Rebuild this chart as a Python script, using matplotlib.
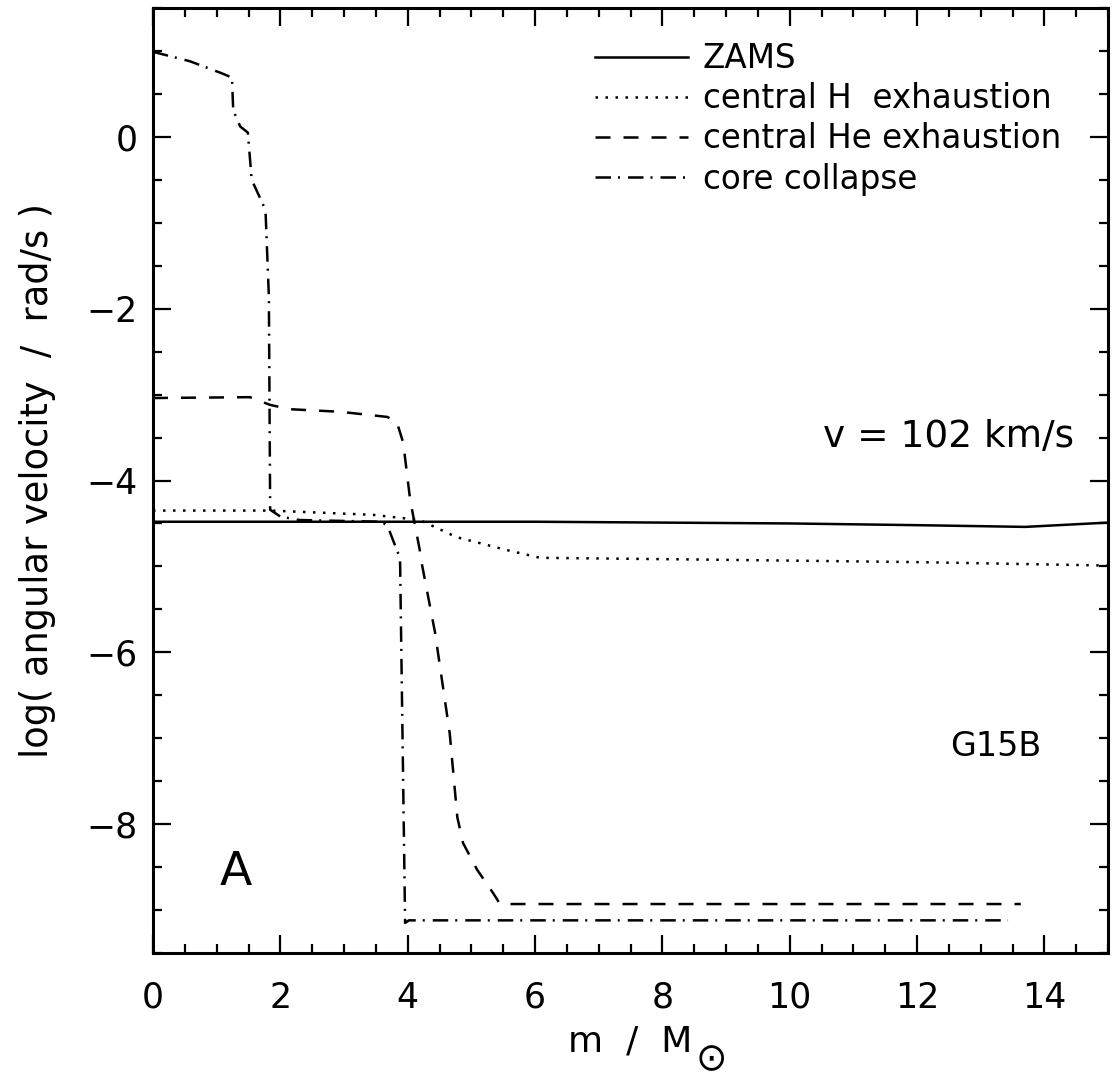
import matplotlib
matplotlib.use("Agg")
import matplotlib.pyplot as plt
from matplotlib.ticker import MultipleLocator

# ---- data ----
zams_m = [0.0, 2.0, 4.0, 6.0, 8.0, 10.0, 12.0, 13.7, 15.0]
zams_w = [-4.48, -4.48, -4.48, -4.48, -4.49, -4.50, -4.52, -4.54, -4.49]

hexh_m = [0.0, 1.84, 3.46, 4.19, 4.77, 5.56, 6.08, 8.59, 12.0, 15.0]
hexh_w = [-4.35, -4.35, -4.40, -4.46, -4.66, -4.81, -4.90, -4.92, -4.95, -4.99]

heex_m = [0.0, 1.52, 1.84, 2.15, 2.94, 3.68, 3.83, 3.93, 4.04, 4.19, 4.22,
          4.43, 4.66, 4.78, 4.87, 5.09, 5.34, 5.45, 13.63]
heex_w = [-3.04, -3.03, -3.12, -3.17, -3.20, -3.26, -3.32, -3.56, -4.23, -4.81,
          -4.96, -5.77, -6.94, -7.92, -8.22, -8.53, -8.80, -8.93, -8.93]

cc_m = [0.0, 0.58, 1.08, 1.24, 1.26, 1.37, 1.49, 1.55, 1.73, 1.77, 1.82, 1.84,
        2.0, 2.3, 3.6, 3.69, 3.83, 3.88, 3.96, 4.02, 13.43]
cc_w = [0.99, 0.88, 0.74, 0.69, 0.31, 0.12, 0.05, -0.50, -0.79, -0.91, -1.86,
        -4.34, -4.42, -4.46, -4.48, -4.54, -4.81, -4.90, -9.15, -9.12, -9.12]

labels = ["ZAMS", "central H  exhaustion", "central He exhaustion", "core collapse"]
xticks = [0, 2, 4, 6, 8, 10, 12, 14]
yticks = [-8, -6, -4, -2, 0]

plt.rcParams['font.family'] = ['DejaVu Sans']
plt.rcParams['mathtext.fontset'] = 'dejavusans'

fig = plt.figure(figsize=(11.13, 10.82), dpi=100)
ax = fig.add_axes([153/1113, 1-953/1082, (1108-153)/1113, (953-8)/1082])

lw = 1.8
ax.plot(zams_m, zams_w, color='black', lw=lw, ls='-', label=labels[0])
ax.plot(hexh_m, hexh_w, color='black', lw=lw, ls=(0, (1, 3)), dash_capstyle='butt', label=labels[1])
ax.plot(heex_m, heex_w, color='black', lw=lw, ls=(0, (6.0, 5.2)), label=labels[2])
ax.plot(cc_m, cc_w, color='black', lw=lw, ls=(0, (6.2, 2.8, 0.8, 3.2)), label=labels[3])

ax.set_xlim(0, 15)
ax.set_ylim(-9.5, 1.5)
ax.set_xticks(xticks)
ax.set_yticks(yticks)
ax.set_xticklabels([str(t) for t in xticks])
ax.set_yticklabels([("\u2212" + str(-t)) if t < 0 else str(t) for t in yticks])
ax.xaxis.set_minor_locator(MultipleLocator(0.5))
ax.yaxis.set_minor_locator(MultipleLocator(0.5))
ax.tick_params(which='both', direction='in', top=True, right=True, width=1.6, colors='black')
ax.tick_params(which='major', length=13)
ax.tick_params(which='minor', length=6.5)
ax.tick_params(axis='x', which='major', pad=20, labelsize=25)
ax.tick_params(axis='y', which='major', pad=11, labelsize=25)
for s in ax.spines.values():
    s.set_linewidth(2.2)

xl = ax.set_xlabel("m  /  M", fontsize=26, labelpad=7)
ax.set_ylabel("log( angular velocity  /  rad/s )", fontsize=26.5, labelpad=22)
ax.annotate("\u2299", xy=(1.0, 0.0), xycoords=xl, xytext=(2, -1), textcoords='offset points',
            ha='left', va='center', fontsize=27)

ax.text(0.965, 0.535, "v = 102 km/s", transform=ax.transAxes, ha='right', va='baseline', fontsize=27)
ax.text(0.93, 0.208, "G15B", transform=ax.transAxes, ha='right', va='baseline', fontsize=24)
ax.text(0.07, 0.072, "A", transform=ax.transAxes, ha='left', va='baseline', fontsize=34)

leg = ax.legend(loc='upper left', bbox_to_anchor=(0.463, 0.964), frameon=False,
                fontsize=23.5, handlelength=2.85, handletextpad=0.45, labelspacing=0.22,
                borderpad=0, borderaxespad=0)

fig.savefig("out.png", dpi=100)
